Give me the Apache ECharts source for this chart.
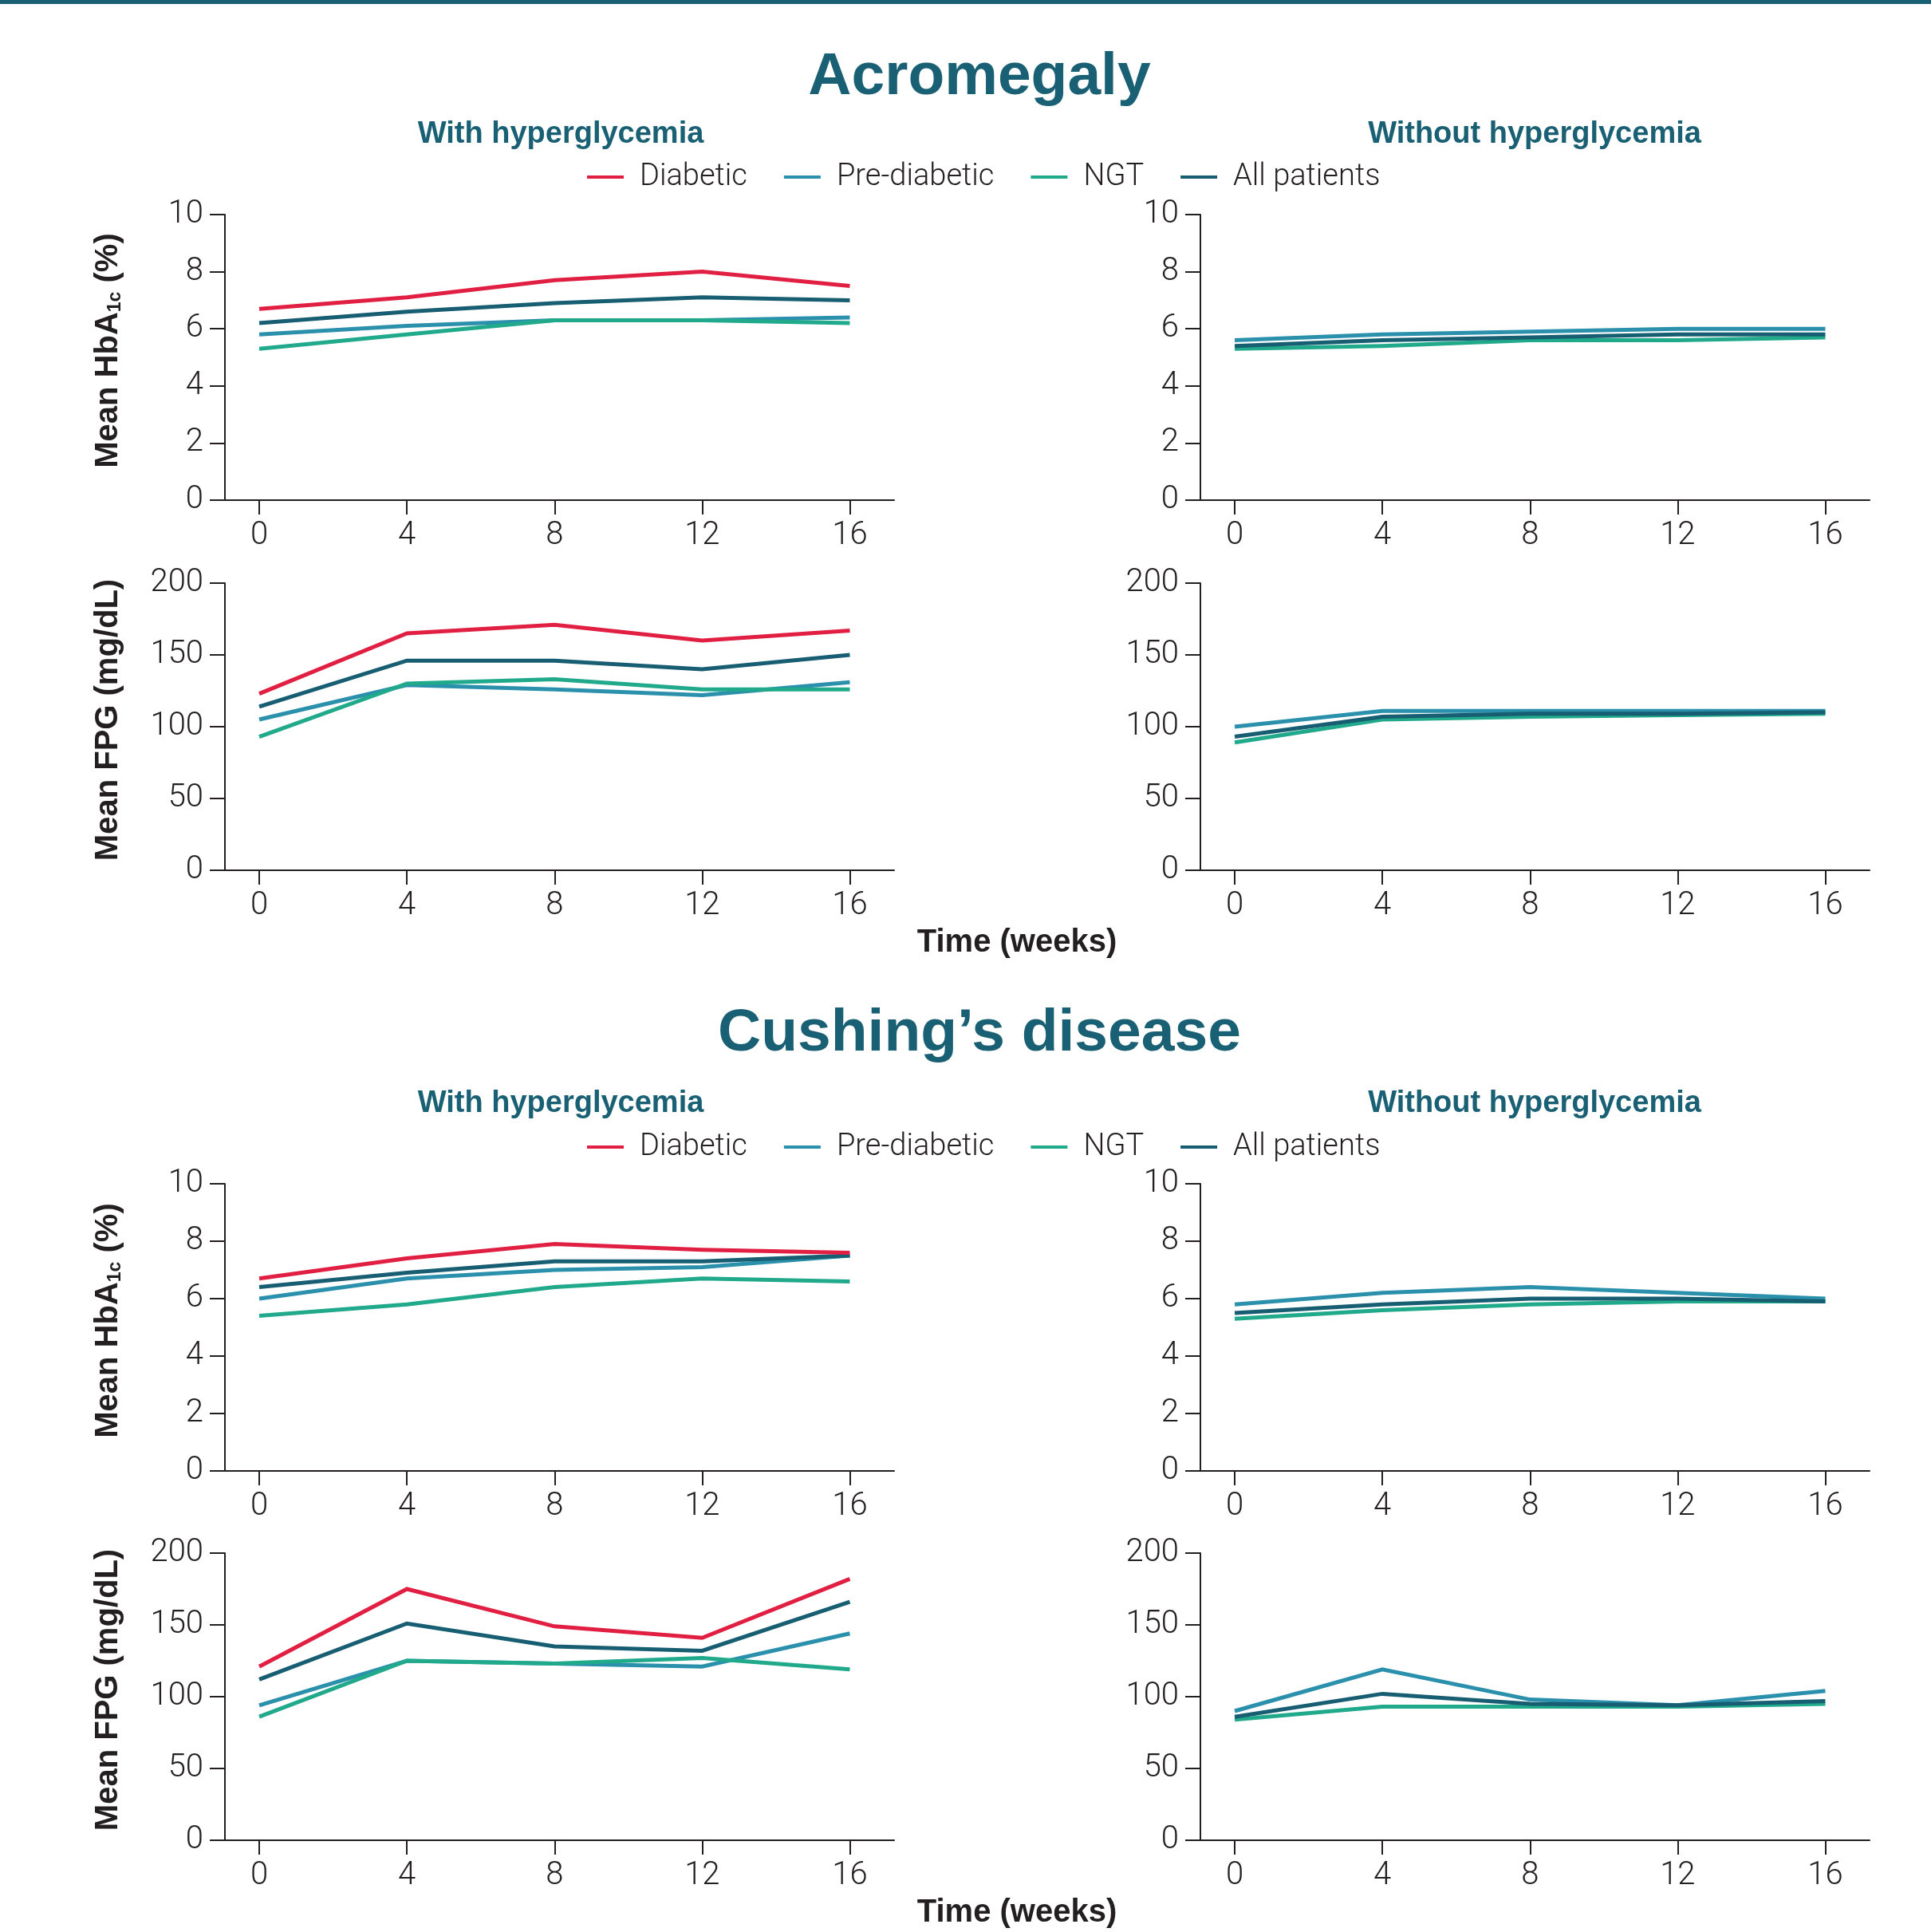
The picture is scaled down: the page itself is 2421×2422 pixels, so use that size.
<!DOCTYPE html>
<html>
<head>
<meta charset="utf-8">
<script src="https://cdn.jsdelivr.net/npm/echarts@6/dist/echarts.min.js"></script>
<style>
  html, body { margin: 0; padding: 0; background: #ffffff; }
  #chart { width: 2421px; height: 2422px; }
</style>
</head>
<body>
<div id="chart"></div>
<script>
// ---------- DATA ----------
const weeks = [0, 4, 8, 12, 16];
const seriesNames = ['Diabetic', 'Pre-diabetic', 'NGT', 'All patients'];
const hbTicks = [0, 2, 4, 6, 8, 10];
const fpgTicks = [0, 50, 100, 150, 200];

// Acromegaly – HbA1c (%)
const acroHbWithDiabetic = [6.7, 7.1, 7.7, 8.0, 7.5];
const acroHbWithPre      = [5.8, 6.1, 6.3, 6.3, 6.4];
const acroHbWithNGT      = [5.3, 5.8, 6.3, 6.3, 6.2];
const acroHbWithAll      = [6.2, 6.6, 6.9, 7.1, 7.0];
const acroHbWithoutPre   = [5.6, 5.8, 5.9, 6.0, 6.0];
const acroHbWithoutNGT   = [5.3, 5.4, 5.6, 5.6, 5.7];
const acroHbWithoutAll   = [5.4, 5.6, 5.7, 5.8, 5.8];

// Acromegaly – FPG (mg/dL)
const acroFpgWithDiabetic = [123, 165, 171, 160, 167];
const acroFpgWithPre      = [105, 129, 126, 122, 131];
const acroFpgWithNGT      = [93, 130, 133, 126, 126];
const acroFpgWithAll      = [114, 146, 146, 140, 150];
const acroFpgWithoutPre   = [100, 111, 111, 111, 111];
const acroFpgWithoutNGT   = [89, 105, 107, 108, 109];
const acroFpgWithoutAll   = [93, 107, 109, 109, 110];

// Cushing's disease – HbA1c (%)
const cushHbWithDiabetic = [6.7, 7.4, 7.9, 7.7, 7.6];
const cushHbWithPre      = [6.0, 6.7, 7.0, 7.1, 7.5];
const cushHbWithNGT      = [5.4, 5.8, 6.4, 6.7, 6.6];
const cushHbWithAll      = [6.4, 6.9, 7.3, 7.3, 7.5];
const cushHbWithoutPre   = [5.8, 6.2, 6.4, 6.2, 6.0];
const cushHbWithoutNGT   = [5.3, 5.6, 5.8, 5.9, 5.9];
const cushHbWithoutAll   = [5.5, 5.8, 6.0, 6.0, 5.9];

// Cushing's disease – FPG (mg/dL)
const cushFpgWithDiabetic = [121, 175, 149, 141, 182];
const cushFpgWithPre      = [94, 125, 123, 121, 144];
const cushFpgWithNGT      = [86, 125, 123, 127, 119];
const cushFpgWithAll      = [112, 151, 135, 132, 166];
const cushFpgWithoutPre   = [90, 119, 98, 94, 104];
const cushFpgWithoutNGT   = [84, 93, 93, 93, 95];
const cushFpgWithoutAll   = [86, 102, 95, 94, 97];

// ---------- STYLE ----------
const COLORS = {
  'Diabetic': '#E01F43',
  'Pre-diabetic': '#2A90AC',
  'NGT': '#20A98B',
  'All patients': '#175E73'
};
const TEAL = '#1A6074';
const INK = '#231F20';
const LIGHT_FONT = 'Roboto, "Liberation Sans", sans-serif';
const BOLD_FONT = '"Liberation Sans", Arial, sans-serif';

const chart = echarts.init(document.getElementById('chart'), null, { renderer: 'canvas' });

const LEFT_X = 282, RIGHT_X = 1505, GRID_W = 839;
const panels = [
  { left: LEFT_X,  top: 269,  height: 358, kind: 'hb',  yName: true,
    data: { 'Pre-diabetic': acroHbWithPre, 'NGT': acroHbWithNGT, 'All patients': acroHbWithAll, 'Diabetic': acroHbWithDiabetic } },
  { left: RIGHT_X, top: 269,  height: 358, kind: 'hb',  yName: false,
    data: { 'Pre-diabetic': acroHbWithoutPre, 'NGT': acroHbWithoutNGT, 'All patients': acroHbWithoutAll } },
  { left: LEFT_X,  top: 731,  height: 360, kind: 'fpg', yName: true,
    data: { 'Pre-diabetic': acroFpgWithPre, 'NGT': acroFpgWithNGT, 'All patients': acroFpgWithAll, 'Diabetic': acroFpgWithDiabetic } },
  { left: RIGHT_X, top: 731,  height: 360, kind: 'fpg', yName: false,
    data: { 'Pre-diabetic': acroFpgWithoutPre, 'NGT': acroFpgWithoutNGT, 'All patients': acroFpgWithoutAll } },
  { left: LEFT_X,  top: 1484, height: 360, kind: 'hb',  yName: true,
    data: { 'Pre-diabetic': cushHbWithPre, 'NGT': cushHbWithNGT, 'All patients': cushHbWithAll, 'Diabetic': cushHbWithDiabetic } },
  { left: RIGHT_X, top: 1484, height: 360, kind: 'hb',  yName: false,
    data: { 'Pre-diabetic': cushHbWithoutPre, 'NGT': cushHbWithoutNGT, 'All patients': cushHbWithoutAll } },
  { left: LEFT_X,  top: 1947, height: 360, kind: 'fpg', yName: true,
    data: { 'Pre-diabetic': cushFpgWithPre, 'NGT': cushFpgWithNGT, 'All patients': cushFpgWithAll, 'Diabetic': cushFpgWithDiabetic } },
  { left: RIGHT_X, top: 1947, height: 360, kind: 'fpg', yName: false,
    data: { 'Pre-diabetic': cushFpgWithoutPre, 'NGT': cushFpgWithoutNGT, 'All patients': cushFpgWithoutAll } }
];

const grids = [], xAxes = [], yAxes = [], series = [];
const tickLabelStyle = { color: INK, fontFamily: LIGHT_FONT, fontWeight: 300, fontSize: 40 };
const axisLineStyle = { color: INK, width: 2 };

panels.forEach((p, i) => {
  grids.push({ left: p.left, top: p.top, width: GRID_W, height: p.height, containLabel: false });
  xAxes.push({
    type: 'value', gridIndex: i, min: -0.93, max: 17.2,
    axisLine: { show: true, onZero: false, lineStyle: axisLineStyle },
    axisTick: { show: true, length: 18, lineStyle: axisLineStyle, customValues: weeks },
    axisLabel: { show: true, margin: 25, customValues: weeks, ...tickLabelStyle },
    splitLine: { show: false }
  });
  const isHb = p.kind === 'hb';
  const ticks = isHb ? hbTicks : fpgTicks;
  yAxes.push({
    type: 'value', gridIndex: i,
    min: ticks[0], max: ticks[ticks.length - 1], interval: ticks[1] - ticks[0],
    axisLine: { show: true, onZero: false, lineStyle: axisLineStyle },
    axisTick: { show: true, length: 19, lineStyle: axisLineStyle },
    axisLabel: { show: true, margin: 27, ...tickLabelStyle },
    splitLine: { show: false },
    name: p.yName ? (isHb ? '{t|Mean HbA}{s|1c}{t| (%)}' : '{t|Mean FPG (mg/dL)}') : '',
    nameLocation: 'middle',
    nameRotate: 90,
    nameGap: 126,
    nameTextStyle: {
      padding: [0, 0, 0, 17],
      rich: {
        t: { fontFamily: BOLD_FONT, fontWeight: 'bold', fontSize: 40, color: INK },
        s: { fontFamily: BOLD_FONT, fontWeight: 'bold', fontSize: 23, color: INK, padding: [17, 0, 0, 0] }
      }
    }
  });
  Object.keys(p.data).forEach(name => {
    const vals = p.data[name];
    series.push({
      name: name,
      type: 'line',
      xAxisIndex: i, yAxisIndex: i,
      data: weeks.map((w, k) => [w, vals[k]]),
      showSymbol: false,
      symbol: 'none',
      lineStyle: { width: 5, color: COLORS[name], cap: 'butt', join: 'miter' },
      itemStyle: { color: COLORS[name] },
      z: name === 'Diabetic' ? 5 : (name === 'All patients' ? 4 : (name === 'NGT' ? 3 : 2)),
      animation: false
    });
  });
});

function legendAt(top) {
  return {
    left: 731, top: top,
    orient: 'horizontal',
    data: seriesNames,
    icon: 'rect',
    itemWidth: 46, itemHeight: 4,
    itemGap: 46,
    selectedMode: false,
    textStyle: { color: INK, fontFamily: LIGHT_FONT, fontWeight: 300, fontSize: 38, padding: [0, 0, 0, 15], lineHeight: 44 }
  };
}

function txt(x, y, text, size, color, weight) {
  return {
    type: 'text', x: x, y: y, silent: true,
    style: {
      text: text, fill: color,
      font: (weight || 'bold') + ' ' + size + 'px ' + BOLD_FONT,
      align: 'center', verticalAlign: 'middle'
    }
  };
}

const option = {
  backgroundColor: '#ffffff',
  animation: false,
  grid: grids,
  xAxis: xAxes,
  yAxis: yAxes,
  series: series,
  legend: [legendAt(195), legendAt(1411)],
  graphic: [
    { type: 'rect', shape: { x: 0, y: 0, width: 2421, height: 5 }, style: { fill: TEAL }, silent: true },
    txt(1228, 97, 'Acromegaly', 75, TEAL),
    txt(703, 169, 'With hyperglycemia', 38, TEAL),
    txt(1924, 169, 'Without hyperglycemia', 38, TEAL),
    txt(1275, 1182, 'Time (weeks)', 40, INK),
    txt(1228, 1296, 'Cushing\u2019s disease', 75, TEAL),
    txt(703, 1384, 'With hyperglycemia', 38, TEAL),
    txt(1924, 1384, 'Without hyperglycemia', 38, TEAL),
    txt(1275, 2398, 'Time (weeks)', 40, INK)
  ]
};

chart.setOption(option);
</script>
</body>
</html>
